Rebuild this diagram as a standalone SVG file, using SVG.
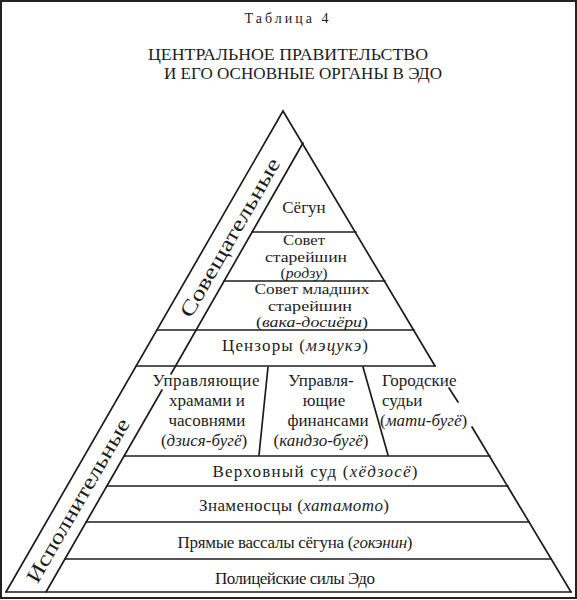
<svg xmlns="http://www.w3.org/2000/svg" width="577" height="600" viewBox="0 0 577 600">
<style>
.ln{stroke:#1c1c1c;stroke-width:1.7;fill:none;stroke-linecap:round}
.t{font-family:"Liberation Serif","Times New Roman","DejaVu Serif",serif;font-size:17px;fill:#1c1c1c;text-anchor:middle}
.s{font-size:15px}
.i{font-style:italic}
.l{text-anchor:start}
.hd{font-family:"Liberation Serif","Times New Roman","DejaVu Serif",serif;fill:#1c1c1c;text-anchor:middle}
.band{font-family:"Liberation Serif","Times New Roman","DejaVu Serif",serif;font-size:21px;fill:#1c1c1c;text-anchor:middle}
</style>
<rect x="0" y="0" width="577" height="600" fill="#ffffff"/>
<rect x="1" y="1" width="575" height="597" fill="none" stroke="#222" stroke-width="2"/>

<g id="title">
<text class="hd" x="288" y="23" font-size="14" letter-spacing="3">Таблица 4</text>
<text class="hd" x="288" y="60" font-size="17" textLength="280" lengthAdjust="spacingAndGlyphs">ЦЕНТРАЛЬНОЕ ПРАВИТЕЛЬСТВО</text>
<text class="hd" x="303" y="79" font-size="17" textLength="278" lengthAdjust="spacingAndGlyphs">И ЕГО ОСНОВНЫЕ ОРГАНЫ В ЭДО</text>
</g>

<g id="connectors">
<polyline class="ln" points="6,592 283,111 435,366"/>
<line class="ln" x1="449" y1="388" x2="458" y2="402"/>
<line class="ln" x1="472" y1="427" x2="571" y2="592"/>
<line class="ln" x1="6" y1="592" x2="571" y2="592"/>
<line class="ln" x1="303" y1="143" x2="171" y2="374"/>
<line class="ln" x1="162" y1="390" x2="46" y2="592"/>
<line class="ln" x1="252" y1="232" x2="356" y2="232"/>
<line class="ln" x1="224" y1="281" x2="385" y2="281"/>
<line class="ln" x1="157" y1="330" x2="414" y2="330"/>
<line class="ln" x1="136" y1="366" x2="435" y2="366"/>
<line class="ln" x1="124" y1="456" x2="490" y2="456"/>
<line class="ln" x1="107" y1="486" x2="508" y2="486"/>
<line class="ln" x1="86" y1="522" x2="529" y2="522"/>
<line class="ln" x1="65" y1="559" x2="551" y2="559"/>
<line class="ln" x1="268" y1="367" x2="259" y2="455"/>
<line class="ln" x1="363" y1="367" x2="388" y2="455"/>
</g>

<g id="band-consult">
<text class="band" transform="translate(236,241) rotate(-60)" textLength="180" lengthAdjust="spacingAndGlyphs">Совещательные</text>
</g>
<g id="band-exec">
<text class="band" transform="translate(84,504) rotate(-60)" textLength="186" lengthAdjust="spacingAndGlyphs">Исполнительные</text>
</g>

<g id="shogun">
<text class="t" x="304" y="213">Сёгун</text>
</g>
<g id="roju">
<text class="t s" x="304" y="245" textLength="42" lengthAdjust="spacingAndGlyphs">Совет</text>
<text class="t s" x="306" y="261.5" textLength="82" lengthAdjust="spacingAndGlyphs">старейшин</text>
<text class="t s" x="304" y="278" textLength="47" lengthAdjust="spacingAndGlyphs">(<tspan class="i">родзу</tspan>)</text>
</g>
<g id="wakadoshiyori">
<text class="t s" x="312" y="294" textLength="115" lengthAdjust="spacingAndGlyphs">Совет младших</text>
<text class="t s" x="310" y="310.5" textLength="84" lengthAdjust="spacingAndGlyphs">старейшин</text>
<text class="t s" x="312" y="327" textLength="112" lengthAdjust="spacingAndGlyphs">(<tspan class="i">вака-досиёри</tspan>)</text>
</g>
<g id="metsuke">
<text class="t" x="295" y="351" textLength="146">Цензоры (<tspan class="i">мэцукэ</tspan>)</text>
</g>
<g id="jisha">
<text class="t" x="206" y="386" textLength="107">Управляющие</text>
<text class="t" x="207" y="406">храмами и</text>
<text class="t" x="207" y="426">часовнями</text>
<text class="t" x="204" y="446">(<tspan class="i">дзися-бугё</tspan>)</text>
</g>
<g id="kanjo">
<text class="t" x="321" y="386">Управля-</text>
<text class="t" x="324" y="406">ющие</text>
<text class="t" x="328" y="426">финансами</text>
<text class="t" x="321" y="446">(<tspan class="i">кандзо-бугё</tspan>)</text>
</g>
<g id="machi">
<text class="t l" x="382" y="386">Городские</text>
<text class="t l" x="382" y="406">судьи</text>
<text class="t l" x="380" y="426">(<tspan class="i">мати-бугё</tspan>)</text>
</g>
<g id="hyojosho">
<text class="t" x="315" y="477" textLength="205">Верховный суд (<tspan class="i">хёдзосё</tspan>)</text>
</g>
<g id="hatamoto">
<text class="t" x="294" y="511" textLength="190">Знаменосцы (<tspan class="i">хатамото</tspan>)</text>
</g>
<g id="gokenin">
<text class="t" x="295" y="548" textLength="235">Прямые вассалы сёгуна (<tspan class="i">гокэнин</tspan>)</text>
</g>
<g id="police">
<text class="t" x="295" y="584" textLength="160">Полицейские силы Эдо</text>
</g>
</svg>
